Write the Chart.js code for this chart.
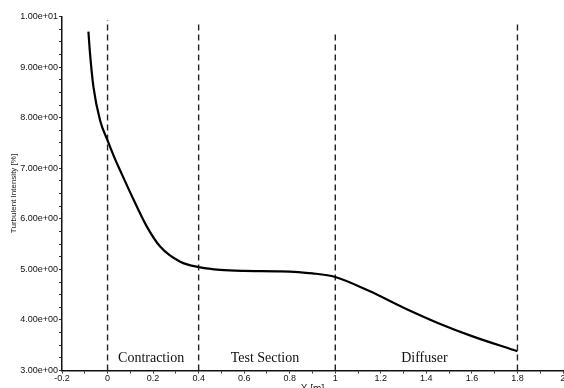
<!DOCTYPE html>
<html>
<head>
<meta charset="utf-8">
<script src="https://cdn.jsdelivr.net/npm/chart.js@4.4.1/dist/chart.umd.min.js"></script>
<style>
  html, body { margin: 0; padding: 0; background: #fff; }
  #wrap { width: 564px; height: 388px; overflow: hidden; position: relative; }
  canvas { display: block; }
</style>
</head>
<body>
<div id="wrap"><canvas id="c" width="570" height="398"></canvas></div>
<script>
// Turbulent intensity along the tunnel axis
const positionX = [-0.084, -0.077, -0.062, -0.033, 0.0, 0.033, 0.055, 0.113, 0.172, 0.231, 0.319, 0.407, 0.495, 0.6, 0.76, 0.9, 1.0, 1.15, 1.3, 1.45, 1.6, 1.8];
const intensity = [9.70, 9.27, 8.61, 7.95, 7.55, 7.18, 6.96, 6.39, 5.85, 5.45, 5.15, 5.04, 4.99, 4.97, 4.96, 4.92, 4.85, 4.57, 4.24, 3.94, 3.68, 3.38];

// Section boundaries (dashed) and the height each dashed line reaches
const boundaryX = [0, 0.4, 1.0, 1.8];
const boundaryTop = [9.93, 9.88, 9.70, 9.85];
const sectionNames = ['Contraction', 'Test Section', 'Diffuser'];

const xMin = -0.2, xMax = 2, xStep = 0.1;
const yMin = 3, yMax = 10, yStep = 0.25;

function sci(v) {
  if (v === 0) return '0.00e+00';
  const e = Math.floor(Math.log10(Math.abs(v)) + 1e-9);
  const m = v / Math.pow(10, e);
  return m.toFixed(2) + 'e' + (e < 0 ? '-' : '+') + String(Math.abs(e)).padStart(2, '0');
}

const datasets = [{
  data: positionX.map((x, i) => ({ x, y: intensity[i] })),
  borderColor: '#000',
  borderWidth: 2.2,
  pointRadius: 0,
  cubicInterpolationMode: 'monotone',
  fill: false
}];
boundaryX.forEach((bx, i) => {
  datasets.push({
    data: [{ x: bx, y: yMin }, { x: bx, y: boundaryTop[i] }],
    borderColor: '#222',
    borderWidth: 1.4,
    borderDash: [6, 4],
    pointRadius: 0,
    fill: false
  });
});

// Section names centred between consecutive boundaries
const sectionLabels = {
  id: 'sectionLabels',
  afterDatasetsDraw(chart) {
    const { ctx, scales: { x, y } } = chart;
    ctx.save();
    ctx.fillStyle = '#111';
    ctx.font = '14px "Liberation Serif", "DejaVu Serif", serif';
    ctx.textAlign = 'center';
    ctx.textBaseline = 'middle';
    sectionNames.forEach((name, i) => {
      const mid = (boundaryX[i] + boundaryX[i + 1]) / 2;
      ctx.fillText(name, x.getPixelForValue(mid) - 2, y.getPixelForValue(3.24));
    });
    ctx.restore();
  }
};

const tickFont = { family: '"Liberation Sans", Arial, sans-serif', size: 9 };

new Chart(document.getElementById('c'), {
  type: 'line',
  data: { datasets },
  plugins: [sectionLabels],
  options: {
    responsive: false,
    animation: false,
    layout: { padding: { top: 16.5, right: 7, bottom: 0, left: 0 } },
    plugins: { legend: { display: false }, tooltip: { enabled: false } },
    scales: {
      x: {
        type: 'linear',
        min: xMin, max: xMax,
        border: { display: true, color: '#111', width: 1.5 },
        grid: { display: true, drawOnChartArea: false, drawTicks: true, tickLength: 3, color: '#333' },
        ticks: {
          stepSize: xStep,
          autoSkip: false,
          maxRotation: 0,
          padding: 0,
          color: '#111',
          font: tickFont,
          callback: (v) => {
            const t = Math.round(v * 10);
            return t % 2 === 0 ? String(t / 10) : '';
          }
        },
        title: {
          display: true,
          text: 'X [m]',
          color: '#222',
          padding: { top: 0, bottom: 3 },
          font: { family: '"Liberation Sans", Arial, sans-serif', size: 10 }
        },
        afterFit: (s) => { s.height = 27.5; }
      },
      y: {
        type: 'linear',
        min: yMin, max: yMax,
        border: { display: true, color: '#111', width: 1.5 },
        grid: { display: true, drawOnChartArea: false, drawTicks: true, tickLength: 3, color: '#333' },
        ticks: {
          stepSize: yStep,
          autoSkip: false,
          padding: 1,
          color: '#111',
          font: tickFont,
          callback: (v) => (Math.abs(v - Math.round(v)) < 1e-6 ? sci(v) : '')
        },
        title: {
          display: true,
          text: 'Turbulent Intensity [%]',
          color: '#222',
          padding: { top: 9, bottom: 2 },
          font: { family: '"Liberation Sans", Arial, sans-serif', size: 8 }
        },
        afterFit: (s) => { s.width = 62; }
      }
    }
  }
});
</script>
</body>
</html>
